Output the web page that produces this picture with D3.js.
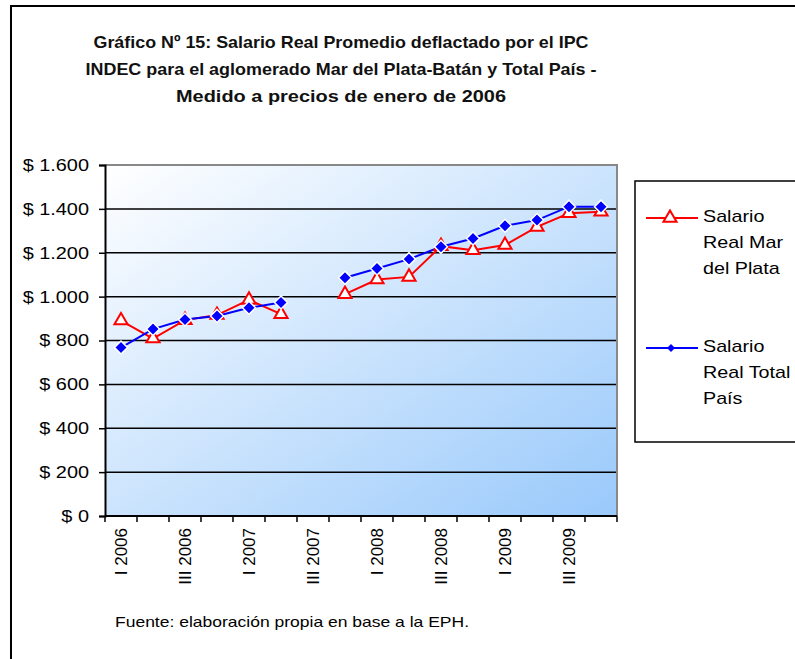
<!DOCTYPE html>
<html>
<head>
<meta charset="utf-8">
<script src="https://cdn.jsdelivr.net/npm/d3@7/dist/d3.min.js"></script>
<style>
  body { margin: 0; background: #fff; }
  svg text { font-family: Arial, "Liberation Sans", sans-serif; }
</style>
</head>
<body>
<svg id="chart" width="795" height="659"></svg>
<script>
// Quarters (III 2007 has no data).
var quarters = ["I 2006", "II 2006", "III 2006", "IV 2006",
                "I 2007", "II 2007", "III 2007", "IV 2007",
                "I 2008", "II 2008", "III 2008", "IV 2008",
                "I 2009", "II 2009", "III 2009", "IV 2009"];
var marDelPlata = [891, 809, 893, 916, 985, 920, null, 1011,
                   1078, 1090, 1230, 1212, 1235, 1318, 1380, 1387];
var totalPais = [768, 852, 896, 912, 949, 973, null, 1086,
                 1128, 1171, 1227, 1265, 1323, 1349, 1410, 1410];
var yTicks = [0, 200, 400, 600, 800, 1000, 1200, 1400, 1600];
var titleLines = ["Gráfico Nº 15: Salario Real Promedio deflactado por el IPC",
                  "INDEC para el aglomerado Mar del Plata-Batán y Total País -",
                  "Medido a precios de enero de 2006"];

var svg = d3.select("#chart");

// Widen horizontal text a bit, as in the original export.
function stretch(sel, k) {
    sel.each(function() {
        var w = this.getComputedTextLength();
        d3.select(this).attr("textLength", w * k).attr("lengthAdjust", "spacingAndGlyphs");
    });
}

// Outer frame.
svg.append("rect")
    .attr("x", 11).attr("y", 6)
    .attr("width", 800).attr("height", 700)
    .attr("fill", "none").attr("stroke", "#000").attr("stroke-width", 2);

// Title, three lines.
var titleWidths = [495, 511, 330];
svg.selectAll("text.title")
    .data(titleLines)
    .enter().append("text")
    .attr("class", "title")
    .attr("x", 341)
    .attr("y", function(d, i) { return 48 + i * 27; })
    .attr("text-anchor", "middle")
    .attr("font-size", 17)
    .attr("font-weight", "bold")
    .attr("fill", "#111")
    .attr("textLength", function(d, i) { return titleWidths[i]; })
    .attr("lengthAdjust", "spacingAndGlyphs")
    .text(function(d) { return d; });

// Plot area.
var plotLeft = 105, plotRight = 617, plotTop = 165, plotBottom = 516;

var x = d3.scaleBand().domain(quarters).range([plotLeft, plotRight]);
var y = d3.scaleLinear().domain([0, 1600]).range([plotBottom, plotTop]);

var grad = svg.append("defs").append("linearGradient")
    .attr("id", "bg")
    .attr("x1", "0%").attr("y1", "0%")
    .attr("x2", "100%").attr("y2", "100%");
grad.append("stop").attr("offset", "0%").attr("stop-color", "#ffffff");
grad.append("stop").attr("offset", "100%").attr("stop-color", "#99c9fb");

svg.append("rect")
    .attr("x", plotLeft).attr("y", plotTop)
    .attr("width", plotRight - plotLeft).attr("height", plotBottom - plotTop)
    .attr("fill", "url(#bg)");

// Gridlines.
svg.selectAll("line.grid")
    .data(yTicks.slice(1, -1))
    .enter().append("line")
    .attr("class", "grid")
    .attr("x1", plotLeft).attr("x2", plotRight)
    .attr("y1", function(d) { return y(d); })
    .attr("y2", function(d) { return y(d); })
    .attr("stroke", "#000").attr("stroke-width", 1.5);

// Gray border top and right.
svg.append("path")
    .attr("d", "M" + plotLeft + "," + plotTop + "H" + plotRight + "V" + plotBottom)
    .attr("fill", "none").attr("stroke", "#888").attr("stroke-width", 2);

// Y axis.
var yAxis = svg.append("g")
    .attr("transform", "translate(" + plotLeft + ",0)")
    .call(d3.axisLeft(y)
        .tickValues(yTicks)
        .tickSize(6)
        .tickPadding(10)
        .tickFormat(function(d) { return "$ " + d3.format(",")(d).replace(/,/g, "."); }));
yAxis.select(".domain").attr("stroke", "#000").attr("stroke-width", 2);
yAxis.selectAll(".tick line").attr("stroke", "#000").attr("stroke-width", 1.5);
yAxis.selectAll("text").attr("font-size", 17).attr("fill", "#000")
    .attr("font-family", "Arial, 'Liberation Sans', sans-serif");
stretch(yAxis.selectAll("text"), 1.17);

// X axis: ticks on category boundaries.
var bounds = d3.range(quarters.length + 1);
svg.append("line")
    .attr("x1", plotLeft).attr("x2", plotRight)
    .attr("y1", plotBottom).attr("y2", plotBottom)
    .attr("stroke", "#000").attr("stroke-width", 2);
svg.selectAll("line.xtick")
    .data(bounds)
    .enter().append("line")
    .attr("class", "xtick")
    .attr("x1", function(i) { return plotLeft + i * x.step(); })
    .attr("x2", function(i) { return plotLeft + i * x.step(); })
    .attr("y1", plotBottom).attr("y2", plotBottom + 6)
    .attr("stroke", "#000").attr("stroke-width", 1.5);

// Every second quarter gets a rotated label.
svg.selectAll("text.xlab")
    .data(quarters.filter(function(d, i) { return i % 2 === 0; }))
    .enter().append("text")
    .attr("class", "xlab")
    .attr("transform", function(d) {
        return "translate(" + (x(d) + x.bandwidth() / 2 + 6) + "," + (plotBottom + 12) + ") rotate(-90)";
    })
    .attr("text-anchor", "end")
    .attr("font-size", 17)
    .attr("fill", "#000")
    .text(function(d) { return d; });

// Series lines.
var cx = function(d, i) { return x(quarters[i]) + x.bandwidth() / 2; };
var line = d3.line()
    .defined(function(d) { return d !== null; })
    .x(cx)
    .y(function(d) { return y(d); });

svg.append("path").datum(marDelPlata)
    .attr("d", line).attr("fill", "none")
    .attr("stroke", "#ff0000").attr("stroke-width", 2);
svg.append("path").datum(totalPais)
    .attr("d", line).attr("fill", "none")
    .attr("stroke", "#0000ff").attr("stroke-width", 2);

var triangle = d3.symbol().type(d3.symbolTriangle).size(75);
var diamond = "M0,-6.5L6.5,0L0,6.5L-6.5,0Z";

function pts(data) {
    return data.map(function(d, i) { return {v: d, i: i}; })
        .filter(function(p) { return p.v !== null; });
}

svg.selectAll("path.tri")
    .data(pts(marDelPlata))
    .enter().append("path")
    .attr("class", "tri")
    .attr("d", triangle)
    .attr("transform", function(p) { return "translate(" + cx(p.v, p.i) + "," + y(p.v) + ")"; })
    .attr("fill", "#fff").attr("stroke", "#ff0000").attr("stroke-width", 2);

svg.selectAll("path.dia")
    .data(pts(totalPais))
    .enter().append("path")
    .attr("class", "dia")
    .attr("d", diamond)
    .attr("transform", function(p) { return "translate(" + cx(p.v, p.i) + "," + y(p.v) + ")"; })
    .attr("fill", "#0000ff").attr("stroke", "#fff").attr("stroke-width", 1.5);

// Legend.
var legend = svg.append("g");
legend.append("rect")
    .attr("x", 635).attr("y", 181)
    .attr("width", 200).attr("height", 261)
    .attr("fill", "#fff").attr("stroke", "#000").attr("stroke-width", 1.5);

var legendItems = [
    {color: "#ff0000", y: 218, lines: ["Salario", "Real Mar", "del Plata"], mark: "tri"},
    {color: "#0000ff", y: 348, lines: ["Salario", "Real Total", "País"], mark: "dia"}
];
legendItems.forEach(function(item) {
    legend.append("line")
        .attr("x1", 646).attr("x2", 698)
        .attr("y1", item.y).attr("y2", item.y)
        .attr("stroke", item.color).attr("stroke-width", 2);
    if (item.mark === "tri") {
        legend.append("path")
            .attr("d", triangle)
            .attr("transform", "translate(670," + item.y + ")")
            .attr("fill", "#fff").attr("stroke", item.color).attr("stroke-width", 2);
    } else {
        legend.append("path")
            .attr("d", "M0,-4L4,0L0,4L-4,0Z")
            .attr("transform", "translate(671," + item.y + ")")
            .attr("fill", item.color);
    }
    var labels = legend.selectAll(null)
        .data(item.lines)
        .enter().append("text")
        .attr("x", 703)
        .attr("y", function(d, i) { return item.y + 4 + i * 26; })
        .attr("font-size", 17)
        .attr("fill", "#000")
        .text(function(d) { return d; });
    stretch(labels, 1.16);
});

// Source note.
svg.append("text")
    .attr("x", 115).attr("y", 627)
    .attr("font-size", 15)
    .attr("fill", "#000")
    .attr("textLength", 354)
    .attr("lengthAdjust", "spacingAndGlyphs")
    .text("Fuente: elaboración propia en base a la EPH.");
</script>
</body>
</html>
